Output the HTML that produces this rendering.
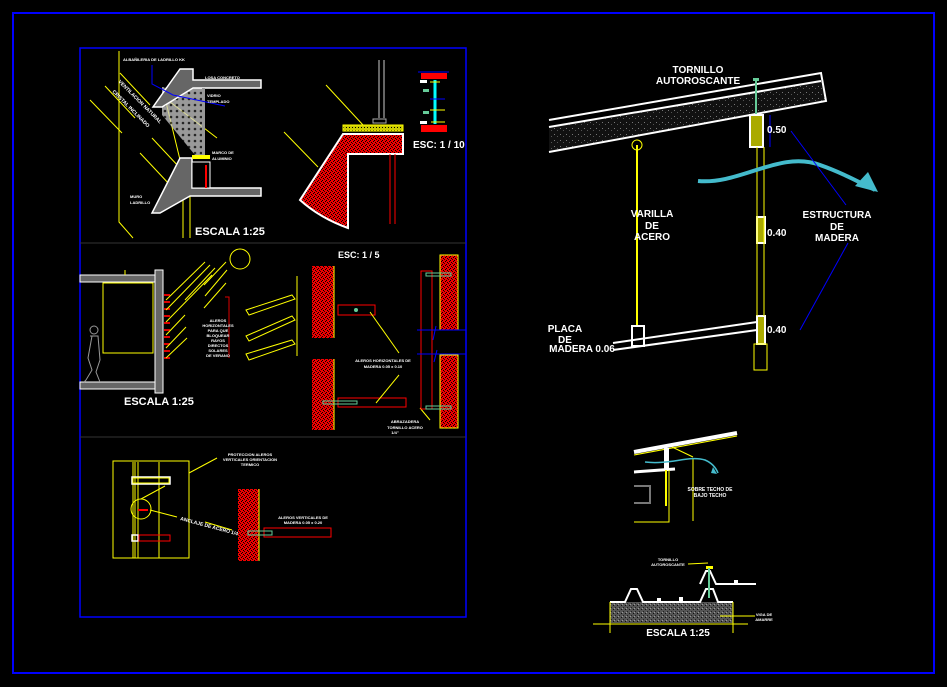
<!DOCTYPE html><html><head><style>body{margin:0;background:#000}svg{display:block}text{font-family:"Liberation Sans",sans-serif;fill:#fff;font-weight:bold}</style></head><body>
<svg width="947" height="687" viewBox="0 0 947 687">
<defs>
<pattern id="sp" width="4" height="4" patternUnits="userSpaceOnUse"><rect width="4" height="4" fill="#e00"/><rect x="1" y="1" width="1" height="1" fill="#000"/><rect x="3" y="2" width="1" height="1" fill="#000"/><rect x="0" y="3" width="1" height="1" fill="#300"/><rect x="2" y="0" width="1" height="1" fill="#000"/></pattern>
<pattern id="dt" width="6" height="6" patternUnits="userSpaceOnUse"><rect width="6" height="6" fill="#111"/><rect x="2" y="2" width="1" height="1" fill="#777"/><rect x="5" y="4" width="1" height="1" fill="#555"/></pattern>
<pattern id="gr" width="4" height="4" patternUnits="userSpaceOnUse"><rect width="4" height="4" fill="#555"/><rect x="1" y="1" width="1" height="1" fill="#111"/><rect x="3" y="3" width="1" height="1" fill="#222"/><rect x="2" y="0" width="1" height="1" fill="#999"/></pattern>
<pattern id="wd" width="6" height="6" patternUnits="userSpaceOnUse"><rect width="6" height="6" fill="#ccc"/><circle cx="3" cy="3" r="1.3" fill="#333"/></pattern>
<pattern id="yh" width="3" height="3" patternUnits="userSpaceOnUse"><rect width="3" height="3" fill="#cc0"/><rect x="1" y="1" width="1" height="1" fill="#000"/></pattern>
</defs>
<rect width="947" height="687" fill="#000"/>
<rect x="13" y="13" width="921" height="660" fill="none" stroke="#00f" stroke-width="2"/>
<rect x="80" y="48" width="386" height="569" fill="none" stroke="#00f" stroke-width="1.5"/>
<line x1="80" y1="243" x2="466" y2="243" stroke="#333"/>
<line x1="80" y1="437" x2="466" y2="437" stroke="#333"/>
<!-- panel 1 left section -->
<g stroke="#ff0" stroke-width="1" fill="none">
<polyline points="119,51 119,222 133,238"/>
<line x1="90" y1="100" x2="122" y2="133"/><line x1="105" y1="86" x2="135" y2="118"/>
<line x1="120" y1="73" x2="150" y2="105"/><line x1="140" y1="153" x2="170" y2="185"/>
<line x1="152" y1="138" x2="180" y2="168"/>
<line x1="165" y1="98" x2="182" y2="168"/><line x1="165" y1="98" x2="217" y2="138"/>
<line x1="183" y1="196" x2="183" y2="238"/><line x1="190" y1="196" x2="190" y2="238"/>
</g>
<polygon points="162,87 203,87 203,155 195,155 162,115" fill="url(#wd)" opacity="0.75"/>
<polygon points="180,69 193,69 193,80 261,80 261,88 193,88 162,107 153,107" fill="#666" stroke="#fff" stroke-width="1.5"/>
<polygon points="180,158 192,158 192,188 261,188 261,196 190,196 160,213 152,213" fill="#666" stroke="#fff" stroke-width="1.5"/>
<rect x="192" y="162" width="18" height="26" fill="#000" stroke="#fff"/>
<rect x="192" y="155" width="18" height="4" fill="#ff0"/>
<line x1="206" y1="165" x2="206" y2="188" stroke="#f00" stroke-width="2"/>
<rect x="202" y="88" width="3" height="67" fill="#999"/>
<polyline points="152,65 152,84 173,95 225,106" fill="none" stroke="#00f"/>
<g font-size="4" fill="#fff"><text x="123" y="61">ALBAÑILERIA DE LADRILLO KK</text><text x="205" y="79">LOSA CONCRETO</text><text x="207" y="97">VIDRIO</text><text x="207" y="103">TEMPLADO</text><text x="212" y="154">MARCO DE</text><text x="212" y="160">ALUMINIO</text><text x="130" y="198">MURO</text><text x="130" y="204">LADRILLO</text></g>
<text x="118" y="82" font-size="5" transform="rotate(45 118 82)">VENTILACION NATURAL</text>
<text x="112" y="92" font-size="5" transform="rotate(45 112 92)">CRISTAL INCLINADO</text>
<text x="195" y="235" font-size="11">ESCALA  1:25</text>
<!-- panel 1 middle -->
<g stroke="#ff0" fill="none"><line x1="326" y1="85" x2="363" y2="125"/><line x1="284" y1="132" x2="318" y2="167"/></g>
<line x1="379" y1="60" x2="379" y2="118" stroke="#888" stroke-width="1.5"/><line x1="384" y1="60" x2="384" y2="118" stroke="#888" stroke-width="1.5"/>
<rect x="373" y="119" width="13" height="4" fill="none" stroke="#aaa"/>
<rect x="343" y="125" width="60" height="6" fill="url(#yh)" stroke="#ff0"/>
<path d="M343,134 L403,134 L403,154 L348,154 L348,228 Q320,218 300,200 Z" fill="url(#sp)" stroke="#fff" stroke-width="2"/>
<line x1="390" y1="154" x2="390" y2="224" stroke="#f00"/><line x1="395" y1="154" x2="395" y2="224" stroke="#f00"/>
<rect x="421" y="73" width="26" height="6" fill="#f00"/><rect x="421" y="125" width="26" height="7" fill="#f00"/>
<line x1="435" y1="80" x2="435" y2="124" stroke="#0ff" stroke-width="3"/>
<line x1="418" y1="72" x2="449" y2="72" stroke="#00f"/><line x1="430" y1="99" x2="445" y2="99" stroke="#00f"/>
<g stroke="#ff0"><line x1="430" y1="82" x2="440" y2="82"/><line x1="430" y1="110" x2="445" y2="110"/><line x1="431" y1="122" x2="445" y2="122"/></g>
<rect x="420" y="80" width="7" height="3" fill="#fff"/><rect x="420" y="121" width="7" height="3" fill="#fff"/>
<rect x="423" y="89" width="6" height="3" fill="#6c9"/><rect x="423" y="111" width="6" height="3" fill="#6c9"/>
<text x="413" y="148" font-size="10">ESC: 1 / 10</text>
<!-- panel 2 -->
<text x="338" y="258" font-size="9">ESC: 1 / 5</text>
<circle cx="240" cy="259" r="10" fill="none" stroke="#ff0"/>
<rect x="80" y="275" width="78" height="7" fill="#666" stroke="#fff"/>
<rect x="80" y="382" width="78" height="7" fill="#666" stroke="#fff"/>
<rect x="155" y="270" width="8" height="123" fill="#666" stroke="#fff"/>
<rect x="103" y="283" width="50" height="70" fill="none" stroke="#ff0"/>
<line x1="125" y1="270" x2="125" y2="275" stroke="#ff0"/>
<g stroke="#999" fill="none"><circle cx="94" cy="330" r="4"/><path d="M90,336 L98,336 L100,360 L96,372 L100,382 M92,336 L88,358 L92,370 L86,380 L84,382"/></g>
<g fill="#d00"><rect x="164" y="294" width="6" height="2"/><rect x="164" y="301" width="6" height="2"/><rect x="164" y="308" width="6" height="2"/><rect x="164" y="315" width="6" height="2"/><rect x="164" y="322" width="6" height="2"/><rect x="164" y="329" width="6" height="2"/><rect x="164" y="336" width="6" height="2"/><rect x="164" y="343" width="6" height="2"/><rect x="164" y="350" width="6" height="2"/><rect x="164" y="357" width="6" height="2"/></g>
<g stroke="#ff0"><line x1="166" y1="300" x2="205" y2="262"/><line x1="166" y1="310" x2="210" y2="265"/><line x1="166" y1="322" x2="212" y2="275"/><line x1="166" y1="335" x2="185" y2="315"/><line x1="166" y1="348" x2="186" y2="327"/><line x1="166" y1="358" x2="187" y2="338"/><line x1="204" y1="308" x2="226" y2="283"/><line x1="205" y1="296" x2="227" y2="270"/><line x1="204" y1="285" x2="226" y2="262"/><line x1="185" y1="300" x2="215" y2="268"/></g>
<polyline points="225,297 229,297 229,358" fill="none" stroke="#d00"/>
<g font-size="4" text-anchor="middle"><text x="218" y="322">ALEROS</text><text x="218" y="327">HORIZONTALES</text><text x="218" y="332">PARA QUE</text><text x="218" y="337">BLOQUEAR</text><text x="218" y="342">RAYOS</text><text x="218" y="347">DIRECTOS</text><text x="218" y="352">SOLARES</text><text x="218" y="357">DE VERANO</text></g>
<text x="124" y="405" font-size="11">ESCALA  1:25</text>
<g fill="none" stroke="#ff0"><polygon points="246,310 292,295 295,299 249,315"/><polygon points="246,336 292,316 295,320 249,341"/><polygon points="246,354 292,340 295,344 249,360"/></g>
<line x1="297" y1="276" x2="297" y2="356" stroke="#ff0"/>
<rect x="312" y="266" width="22" height="72" fill="url(#sp)"/><rect x="312" y="359" width="22" height="71" fill="url(#sp)"/>
<line x1="334" y1="266" x2="334" y2="338" stroke="#ff0"/><line x1="334" y1="359" x2="334" y2="430" stroke="#ff0"/>
<rect x="338" y="305" width="37" height="10" fill="none" stroke="#f00"/><circle cx="356" cy="310" r="2" fill="#6c9"/>
<rect x="338" y="398" width="68" height="9" fill="none" stroke="#f00"/><rect x="323" y="401" width="34" height="3" fill="none" stroke="#6c9"/>
<g stroke="#ff0"><line x1="370" y1="312" x2="399" y2="353"/><line x1="399" y1="375" x2="376" y2="403"/><line x1="420" y1="408" x2="430" y2="420"/></g>
<g font-size="4" text-anchor="middle"><text x="383" y="362">ALEROS HORIZONTALES DE</text><text x="383" y="368">MADERA 0.05 x 0.10</text><text x="405" y="423">ABRAZADERA</text><text x="405" y="429">TORNILLO ACERO</text><text x="395" y="434">1/4"</text></g>
<rect x="440" y="255" width="18" height="75" fill="url(#sp)" stroke="#ff0"/><rect x="440" y="355" width="18" height="73" fill="url(#sp)" stroke="#ff0"/>
<rect x="421" y="271" width="11" height="138" fill="none" stroke="#f00"/>
<g stroke="#6c9" fill="none"><rect x="426" y="273" width="25" height="3"/><rect x="426" y="406" width="25" height="3"/></g>
<g stroke="#00f"><line x1="417" y1="330" x2="466" y2="330"/><line x1="417" y1="354" x2="466" y2="354"/><line x1="436" y1="326" x2="433" y2="340"/><line x1="437" y1="350" x2="434" y2="362"/></g>
<!-- panel 3 -->
<rect x="113" y="461" width="76" height="97" fill="none" stroke="#ff0"/>
<g stroke="#ff0"><line x1="133" y1="462" x2="133" y2="558"/><line x1="135" y1="462" x2="135" y2="558"/><line x1="138" y1="462" x2="138" y2="558"/><line x1="159" y1="462" x2="159" y2="558"/></g>
<rect x="132" y="477" width="38" height="7" fill="none" stroke="#fff" stroke-width="1.5"/>
<rect x="133" y="478" width="36" height="5" fill="none" stroke="#ff0"/>
<rect x="132" y="535" width="6" height="6" fill="none" stroke="#fff" stroke-width="1.5"/>
<rect x="139" y="535" width="31" height="6" fill="none" stroke="#f00"/>
<circle cx="141" cy="509" r="10" fill="none" stroke="#ff0"/>
<line x1="138" y1="510" x2="148" y2="510" stroke="#f00" stroke-width="2"/>
<g stroke="#ff0"><line x1="189" y1="473" x2="217" y2="458"/><line x1="141" y1="499" x2="165" y2="486"/><line x1="150" y1="510" x2="177" y2="517"/><line x1="205" y1="522" x2="232" y2="530"/></g>
<text x="180" y="520" font-size="5" transform="rotate(15 180 520)">ANCLAJE DE ACERO 1/4"</text>
<g font-size="4" text-anchor="middle"><text x="250" y="456">PROTECCION ALEROS</text><text x="250" y="461">VERTICALES ORIENTACION</text><text x="250" y="466">TERMICO</text><text x="303" y="519">ALEROS VERTICALES DE</text><text x="303" y="524">MADERA 0.05 x 0.20</text></g>
<rect x="238" y="489" width="21" height="72" fill="url(#sp)"/><line x1="259" y1="489" x2="259" y2="561" stroke="#ff0"/>
<rect x="264" y="528" width="67" height="9" fill="none" stroke="#f00"/><rect x="248" y="531" width="24" height="4" fill="none" stroke="#6c9"/>
<!-- right main -->
<polygon points="549,127 821,81 826,101 549,152" fill="url(#dt)"/>
<g stroke="#fff" stroke-width="2" fill="none">
<polyline points="549,120 821,73 826,101 549,152"/>
<line x1="549" y1="127" x2="821" y2="81"/>
<polyline points="613,343 757,322"/><polyline points="613,350 757,330"/>
</g>
<line x1="756" y1="80" x2="756" y2="135" stroke="#6c9" stroke-width="2"/>
<rect x="753" y="78" width="6" height="3" fill="#6c9"/>
<rect x="750" y="115" width="13" height="32" fill="#aa0" stroke="#fff" stroke-width="2"/>
<rect x="757" y="217" width="8" height="26" fill="#aa0" stroke="#fff" stroke-width="2"/>
<rect x="757" y="316" width="8" height="28" fill="#aa0" stroke="#fff" stroke-width="2"/>
<line x1="757" y1="147" x2="757" y2="316" stroke="#ff0"/><line x1="764" y1="147" x2="764" y2="316" stroke="#ff0"/>
<rect x="754" y="344" width="13" height="26" fill="none" stroke="#ff0"/>
<line x1="637" y1="145" x2="637" y2="325" stroke="#ff0" stroke-width="2"/><circle cx="637" cy="145" r="5" fill="none" stroke="#ff0"/>
<rect x="632" y="326" width="12" height="20" fill="none" stroke="#fff" stroke-width="2"/>
<path d="M698,181 C740,185 780,150 820,165 C840,172 855,180 875,190" stroke="#4bc" stroke-width="4" fill="none"/>
<polygon points="868,172 878,192 855,186" fill="#4bc"/>
<g stroke="#00f"><line x1="791" y1="131" x2="846" y2="205"/><line x1="848" y1="243" x2="800" y2="330"/><line x1="770" y1="115" x2="770" y2="147"/></g>
<g font-size="10" text-anchor="middle"><text x="698" y="73">TORNILLO</text><text x="698" y="84">AUTOROSCANTE</text>
<text x="652" y="217">VARILLA</text><text x="652" y="229">DE</text><text x="652" y="240">ACERO</text>
<text x="837" y="218">ESTRUCTURA</text><text x="837" y="230">DE</text><text x="837" y="241">MADERA</text>
<text x="565" y="332">PLACA</text><text x="565" y="343">DE</text><text x="582" y="352">MADERA 0.06</text></g>
<g font-size="10"><text x="767" y="133">0.50</text><text x="767" y="236">0.40</text><text x="767" y="333">0.40</text></g>
<!-- small detail -->
<line x1="634" y1="452" x2="737" y2="433" stroke="#fff" stroke-width="4"/>
<line x1="634" y1="455" x2="737" y2="436" stroke="#ff0" stroke-width="1"/>
<rect x="664" y="448" width="5" height="22" fill="#fff"/>
<line x1="634" y1="472" x2="675" y2="469" stroke="#fff" stroke-width="3"/>
<line x1="666" y1="470" x2="666" y2="506" stroke="#ff0" stroke-width="2"/>
<polyline points="669,470 669,522 634,522" fill="none" stroke="#ff0"/>
<line x1="693" y1="458" x2="693" y2="521" stroke="#ff0"/><line x1="672" y1="447" x2="693" y2="457" stroke="#ff0"/>
<polyline points="634,486 650,486 650,503 634,503" fill="none" stroke="#777" stroke-width="2"/>
<path d="M645,462 C670,465 690,455 705,460 C712,463 716,468 718,473" stroke="#4bc" fill="none" stroke-width="1.5"/>
<polygon points="713,467 717,474 711,473" fill="#4bc"/>
<g font-size="5" text-anchor="middle"><text x="710" y="491">SOBRE TECHO DE</text><text x="710" y="497">BAJO TECHO</text></g>
<!-- bottom detail -->
<rect x="610" y="602" width="123" height="21" fill="url(#gr)"/>
<polyline points="610,602 625,602 631,589 637,589 643,602 700,602 706,589 713,589 718,602 733,602" stroke="#fff" stroke-width="2" fill="none"/>
<polyline points="700,584 706,571 710,571 716,584 756,584" stroke="#fff" stroke-width="2" fill="none"/>
<rect x="657" y="598" width="4" height="4" fill="#fff"/><rect x="679" y="597" width="4" height="4" fill="#fff"/><rect x="734" y="580" width="4" height="4" fill="#fff"/>
<rect x="706" y="566" width="7" height="3" fill="#ff0"/><line x1="709" y1="568" x2="709" y2="598" stroke="#6c9" stroke-width="2"/>
<polyline points="688,564 708,563" stroke="#ff0" fill="none"/>
<g font-size="4" text-anchor="middle"><text x="668" y="561">TORNILLO</text><text x="668" y="566">AUTOROSCANTE</text><text x="764" y="616">VIGA DE</text><text x="764" y="621">AMARRE</text></g>
<line x1="720" y1="616" x2="755" y2="616" stroke="#ff0"/>
<line x1="593" y1="624" x2="748" y2="624" stroke="#ff0"/>
<line x1="610" y1="602" x2="610" y2="633" stroke="#ff0"/><line x1="733" y1="602" x2="733" y2="633" stroke="#ff0"/>
<text x="678" y="636" font-size="10" text-anchor="middle">ESCALA  1:25</text>
</svg></body></html>
